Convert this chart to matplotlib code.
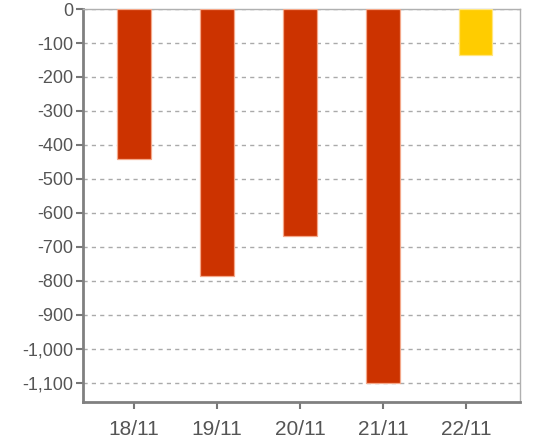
import numpy as np
import matplotlib.pyplot as plt

# 数据
dates = ['18/11', '19/11', '20/11', '21/11', '22/11']
values = [-440, -784, -668, -1100, -135]
bar_colors = ['#CC3300', '#CC3300', '#CC3300', '#CC3300', '#FFCC00']
edge_colors = ['#F4A88A', '#F4A88A', '#F4A88A', '#F4A88A', '#FFE680']
y_ticks = [0, -100, -200, -300, -400, -500, -600, -700, -800, -900, -1000, -1100]

plt.rcParams['font.family'] = ['Liberation Sans', 'DejaVu Sans']

fig = plt.figure(figsize=(5.36, 4.46), dpi=100)
ax = fig.add_axes([0.1549, 0.0987, 0.8153, 0.8811])

x = np.arange(len(dates))
# 最后一根柱子在原图中略微右移
offsets = np.zeros(len(dates))
offsets[-1] = 0.11
ax.bar(x + offsets, values, width=0.4, color=bar_colors,
       edgecolor=edge_colors, linewidth=0.9, zorder=3)

ax.set_xlim(-0.614, 4.65)
ax.set_ylim(-1156, 0)
ax.set_xticks(x)
ax.set_xticklabels(dates)
ax.set_yticks(y_ticks)
ax.set_yticklabels(['{:,}'.format(v) for v in y_ticks])

ax.yaxis.grid(True, linestyle=(0, (3, 3)), color='#aaaaaa', linewidth=1, zorder=0)
ax.tick_params(axis='both', colors='#777777', labelcolor='#555555',
               length=5, width=1.5)
ax.tick_params(axis='y', pad=2, labelsize=13)
ax.tick_params(axis='x', pad=8, labelsize=15)

for side in ['left', 'bottom']:
    ax.spines[side].set_color('#808080')
    ax.spines[side].set_linewidth(2)
for side in ['right', 'top']:
    ax.spines[side].set_color('#b0b0b0')
    ax.spines[side].set_linewidth(1)

fig.savefig('out.png', dpi=100)
